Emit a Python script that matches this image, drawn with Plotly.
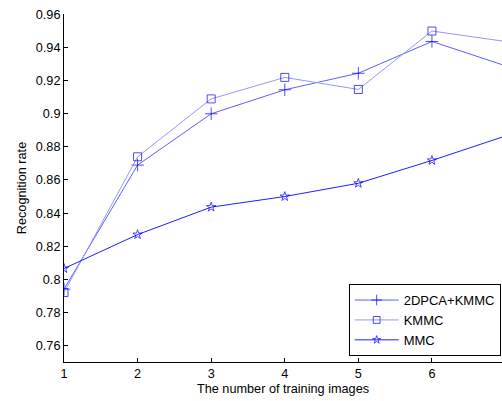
import plotly.graph_objects as go

x_vals = [1, 2, 3, 4, 5, 6, 7]
dpca_kmmc = [0.794, 0.869, 0.900, 0.9145, 0.9245, 0.9437, 0.929]
kmmc = [0.792, 0.874, 0.909, 0.922, 0.9147, 0.950, 0.9437]
mmc = [0.8065, 0.827, 0.8436, 0.850, 0.858, 0.8718, 0.8866]
y_ticks = [0.76, 0.78, 0.8, 0.82, 0.84, 0.86, 0.88, 0.9, 0.92, 0.94, 0.96]
x_ticks = [1, 2, 3, 4, 5, 6, 7]

font = "Liberation Sans, Arial, sans-serif"
fs = 12.7
x_max = 6.952  # the original figure is cropped just before x = 7


def sizes(s):
    # markers whose point lies past the visible edge are not drawn
    return [s if xv <= x_max else 0 for xv in x_vals]


fig = go.Figure()
fig.add_trace(go.Scatter(
    x=x_vals, y=dpca_kmmc, name="2DPCA+KMMC", mode="lines+markers",
    line=dict(color="rgb(95,95,255)", width=1),
    marker=dict(symbol="cross-thin-open", size=sizes(9), color="rgb(0,0,255)",
                line=dict(color="rgb(0,0,255)", width=1)),
))
fig.add_trace(go.Scatter(
    x=x_vals, y=kmmc, name="KMMC", mode="lines+markers",
    line=dict(color="rgb(150,150,255)", width=1),
    marker=dict(symbol="square-open", size=sizes(8), color="rgb(0,0,255)",
                line=dict(color="rgb(0,0,255)", width=1)),
))
fig.add_trace(go.Scatter(
    x=x_vals, y=mmc, name="MMC", mode="lines+markers",
    line=dict(color="rgb(30,30,255)", width=1),
    marker=dict(symbol="star-open", size=sizes(7), color="rgb(0,0,255)",
                line=dict(color="rgb(0,0,255)", width=1)),
))

fig.update_layout(
    width=502, height=401,
    margin=dict(l=64, r=0, t=14, b=39),
    paper_bgcolor="white", plot_bgcolor="white",
    font=dict(family=font, size=fs, color="black"),
    showlegend=True,
    legend=dict(
        x=0.997, y=0.017, xanchor="right", yanchor="bottom",
        bordercolor="black", borderwidth=1, bgcolor="white",
        font=dict(family=font, size=13, color="black"),
        tracegroupgap=0, itemwidth=44,
    ),
    xaxis=dict(
        range=[1, x_max], tickvals=x_ticks, ticktext=[str(v) for v in x_ticks],
        showgrid=False, zeroline=False, showline=True, linecolor="black",
        linewidth=1, ticks="inside", ticklen=4, tickcolor="black",
        title=dict(text="The number of training images", standoff=3,
                   font=dict(size=fs)),
        tickfont=dict(size=fs),
    ),
    yaxis=dict(
        range=[0.75, 0.9603], tickvals=y_ticks,
        ticktext=[f"{v:g}" for v in y_ticks],
        showgrid=False, zeroline=False, showline=True, linecolor="black",
        linewidth=1, ticks="inside", ticklen=4, tickcolor="black",
        ticklabeloverflow="allow",
        title=dict(text="Recognition rate", standoff=6, font=dict(size=fs)),
        tickfont=dict(size=fs),
    ),
)

fig.write_html(
    "out.html",
    config={"displayModeBar": False},
    post_script="document.body.style.margin='0';document.body.style.overflow='hidden';",
)
